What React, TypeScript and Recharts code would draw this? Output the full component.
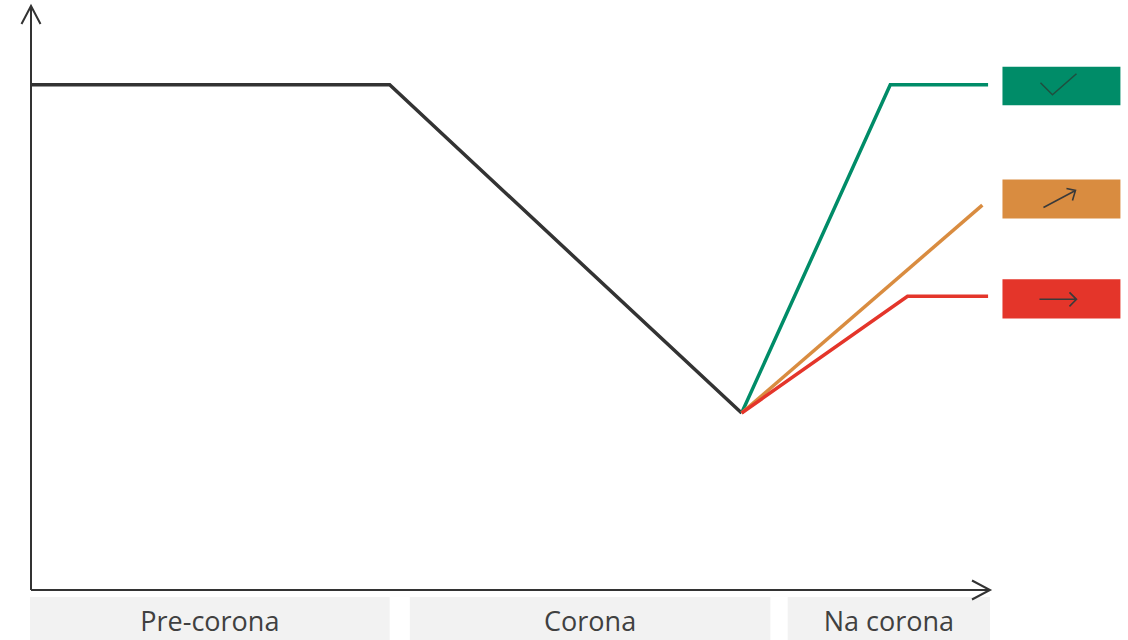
import React from 'react';
import { LineChart, Line, XAxis, YAxis, ReferenceArea, ReferenceLine } from 'recharts';

document.body.style.margin = '0';

// line data (x = time, 0..100; y = level, 0..100)
const preX = [0, 37.4, 74.1];
const preY = [86.5, 86.5, 30.3];
const greenX = [74.1, 89.6, 99.8];
const greenY = [30.3, 86.5, 86.5];
const orangeX = [74.1, 99.2];
const orangeY = [30.3, 65.9];
const redX = [74.1, 91.4, 99.8];
const redY = [30.3, 50.3, 50.3];

// phases along the bottom
const phaseLabels = ['Pre-corona', 'Corona', 'Na corona'];
const phaseStart = [-0.1, 39.5, 78.9];
const phaseEnd = [37.4, 77.1, 100];

// scenario boxes on the right
const scenarioKinds = ['check', 'up', 'right'];
const scenarioTop = [89.6, 70.3, 53.2];
const scenarioBottom = [83.0, 63.6, 46.5];

const COLORS = {
    pre: '#333333',
    green: '#008C68',
    orange: '#D98C40',
    red: '#E4352A',
};
const BOX_COLORS = [COLORS.green, COLORS.orange, COLORS.red];

const toPoints = (xs: number[], ys: number[]) => xs.map((x, i) => ({ x, y: ys[i] }));

const arrowShape = (props: any) => {
    const { x1, y1, x2, y2 } = props;
    const dx = x2 - x1;
    const dy = y2 - y1;
    const len = Math.sqrt(dx * dx + dy * dy) || 1;
    const ux = dx / len;
    const uy = dy / len;
    const back = 18;
    const side = 9.5;
    const ax = x2 - ux * back - uy * side;
    const ay = y2 - uy * back + ux * side;
    const bx = x2 - ux * back + uy * side;
    const by = y2 - uy * back - ux * side;
    return (
        <g>
            <line x1={x1} y1={y1} x2={x2} y2={y2} stroke="#333" strokeWidth={2} />
            <path d={`M${ax},${ay} L${x2},${y2} L${bx},${by}`} fill="none" stroke="#333" strokeWidth={2} />
        </g>
    );
};

const makeIcon = (kind: string) => (props: any) => {
    const vb = props.viewBox || props;
    const x = vb.x;
    const y = vb.y;
    if (kind === 'check') {
        return (
            <path
                d={`M${x + 38},${y + 16} L${x + 50},${y + 28} L${x + 74},${y + 7}`}
                fill="none"
                stroke="#1f4f3f"
                strokeWidth={1.6}
            />
        );
    }
    if (kind === 'up') {
        return (
            <path
                d={`M${x + 41},${y + 28} L${x + 73},${y + 11} M${x + 64},${y + 9} L${x + 73},${y + 11} L${x + 70},${y + 21}`}
                fill="none"
                stroke="#3a3a3a"
                strokeWidth={1.6}
            />
        );
    }
    return (
        <path
            d={`M${x + 37},${y + 20} L${x + 74},${y + 20} M${x + 67},${y + 13} L${x + 74},${y + 20} L${x + 67},${y + 27}`}
            fill="none"
            stroke="#3a3a3a"
            strokeWidth={1.6}
        />
    );
};

const makePhaseLabel = (text: string) => (props: any) => {
    const vb = props.viewBox || props;
    return (
        <text
            x={vb.x + vb.width / 2}
            y={vb.y + 34}
            textAnchor="middle"
            fill="#404040"
            fontSize={27}
            fontFamily="'Segoe UI', 'Open Sans', sans-serif"
        >
            {text}
        </text>
    );
};

export default function App() {
    return (
        <div style={{ width: 1128, height: 640, fontFamily: "'Open Sans', sans-serif" }}>
            <LineChart
                width={1128}
                height={640}
                margin={{ top: 6, right: 138, bottom: 50, left: 31 }}
            >
                <XAxis type="number" dataKey="x" domain={[0, 100]} hide allowDataOverflow />
                <YAxis type="number" domain={[0, 100]} hide allowDataOverflow />

                {phaseLabels.map((label, i) => (
                    <ReferenceArea
                        key={`phase-${i}`}
                        x1={phaseStart[i]}
                        x2={phaseEnd[i]}
                        y1={-1.2}
                        y2={-9}
                        fill="#F2F2F2"
                        fillOpacity={1}
                        stroke="none"
                        ifOverflow="visible"
                        label={makePhaseLabel(label)}
                    />
                ))}

                {scenarioKinds.map((kind, i) => (
                    <ReferenceArea
                        key={`box-${i}`}
                        x1={101.3}
                        x2={113.6}
                        y1={scenarioBottom[i]}
                        y2={scenarioTop[i]}
                        fill={BOX_COLORS[i]}
                        fillOpacity={1}
                        stroke="none"
                        ifOverflow="visible"
                        label={makeIcon(kind)}
                    />
                ))}

                <ReferenceLine
                    segment={[{ x: 0, y: 0 }, { x: 0, y: 100 }]}
                    ifOverflow="visible"
                    shape={arrowShape}
                />
                <ReferenceLine
                    segment={[{ x: 0, y: 0 }, { x: 100, y: 0 }]}
                    ifOverflow="visible"
                    shape={arrowShape}
                />

                <Line
                    data={toPoints(preX, preY)}
                    dataKey="y"
                    type="linear"
                    stroke={COLORS.pre}
                    strokeWidth={3.5}
                    dot={false}
                    activeDot={false}
                    isAnimationActive={false}
                />
                <Line
                    data={toPoints(greenX, greenY)}
                    dataKey="y"
                    type="linear"
                    stroke={COLORS.green}
                    strokeWidth={3.5}
                    dot={false}
                    activeDot={false}
                    isAnimationActive={false}
                />
                <Line
                    data={toPoints(orangeX, orangeY)}
                    dataKey="y"
                    type="linear"
                    stroke={COLORS.orange}
                    strokeWidth={3.5}
                    dot={false}
                    activeDot={false}
                    isAnimationActive={false}
                />
                <Line
                    data={toPoints(redX, redY)}
                    dataKey="y"
                    type="linear"
                    stroke={COLORS.red}
                    strokeWidth={3.5}
                    dot={false}
                    activeDot={false}
                    isAnimationActive={false}
                />
            </LineChart>
        </div>
    );
}
